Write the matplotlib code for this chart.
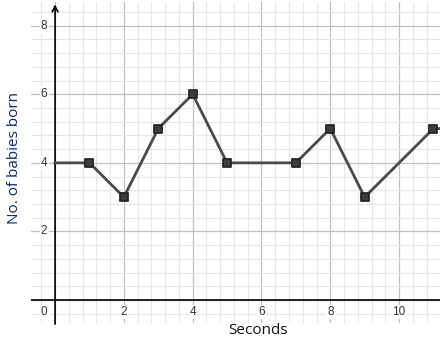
import matplotlib
matplotlib.use("Agg")
import matplotlib.pyplot as plt
from matplotlib.markers import MarkerStyle
from matplotlib.ticker import MultipleLocator

# line passes through (0, 4) and runs off the right edge at 5
line_x = [0, 1, 2, 3, 4, 5, 7, 8, 9, 11, 12]
line_y = [4, 4, 3, 5, 6, 4, 4, 5, 3, 5, 5]
seconds = [1, 2, 3, 4, 5, 7, 8, 9, 11]
babies = [4, 3, 5, 6, 4, 4, 5, 3, 5]
x_ticks = [2, 4, 6, 8, 10]
y_ticks = [2, 4, 6, 8]

fig = plt.figure(figsize=(4.4, 3.44), dpi=100)
ax = fig.add_axes([31 / 440, 21 / 344, 409 / 440, 321 / 344])
ax.set_xlim(-0.70, 11.19)
ax.set_ylim(-0.67, 8.69)

ax.xaxis.set_major_locator(MultipleLocator(2))
ax.yaxis.set_major_locator(MultipleLocator(2))
ax.xaxis.set_minor_locator(MultipleLocator(0.4))
ax.yaxis.set_minor_locator(MultipleLocator(0.4))
ax.grid(which="minor", color="#e6e6e6", lw=0.8)
ax.grid(which="major", color="#c0c0c0", lw=0.9)
ax.set_axisbelow(True)
ax.tick_params(which="both", length=0, labelbottom=False, labelleft=False)
for s in ax.spines.values():
    s.set_visible(False)

# axes
ax.axhline(0, color="black", lw=1.2, zorder=2)
ax.annotate("", xy=(0, 8.62), xytext=(0, -0.70),
            arrowprops=dict(arrowstyle="->", lw=1.2, color="black",
                            shrinkA=0, shrinkB=0), zorder=2)

# tick labels sit inside the grid with a white backing
lab = dict(fontsize=8.5, color="#333333", family="Liberation Sans",
           ha="center", va="center",
           bbox=dict(boxstyle="square,pad=0.1", fc="white", ec="none"))
for t in x_ticks:
    ax.text(t, -0.35, str(t), **lab)
for t in y_ticks:
    ax.text(-0.32, t, str(t), **lab)
ax.text(-0.32, -0.35, "0", **lab)

ax.plot(line_x, line_y, color="#4a4a4a", lw=2, zorder=3)
ax.plot(seconds, babies, ls="none", marker=MarkerStyle("s", joinstyle="round"),
        ms=5.6, mfc="#3c3c3c", mec="#262626", mew=1.3, zorder=4)

fig.text(258 / 440, 1 - 330 / 344, "Seconds", fontsize=11, color="#111111",
         family="Open Sans", ha="center", va="center")
fig.text(15 / 440, 1 - 158 / 344, "No. of babies born", fontsize=11,
         color="#0a2a66", family="Open Sans", rotation=90,
         ha="center", va="center")

fig.savefig("out.png", dpi=100)
